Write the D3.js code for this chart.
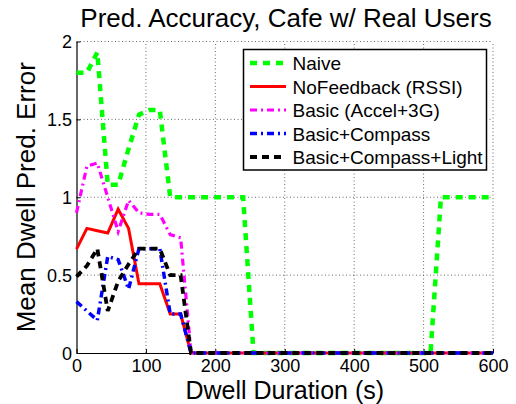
<!DOCTYPE html>
<html><head><meta charset="utf-8">
<script src="https://cdn.jsdelivr.net/npm/d3@7"></script>
<style>
body{margin:0;background:#fff;}
svg{display:block;font-family:"Liberation Sans",Arial,Helvetica,sans-serif;}
</style></head>
<body><svg id="c" width="516" height="404"></svg>
<script>
const durations = [0,15,30,45,60,75,90,105,120,135,150,165,180,195,210,225,240,255,270,285,300,315,330,345,360,375,390,405,420,435,450,465,480,495,510,525,540,555,570,585,600];
const naive = [1.8,1.8,1.93,1.08,1.08,1.31,1.53,1.56,1.56,1.0,1.0,1.0,1.0,1.0,1.0,1.0,1.0,0,0,0,0,0,0,0,0,0,0,0,0,0,0,0,0,0,0,1.0,1.0,1.0,1.0,1.0,1.0];
const noFeedback = [0.667,0.8,0.785,0.77,0.923,0.8,0.444,0.444,0.444,0.25,0.25,0,0,0,0,0,0,0,0,0,0,0,0,0,0,0,0,0,0,0,0,0,0,0,0,0,0,0,0,0,0];
const basic = [0.9,1.2,1.22,1.0,0.78,0.98,0.9,0.89,0.89,0.76,0.74,0,0,0,0,0,0,0,0,0,0,0,0,0,0,0,0,0,0,0,0,0,0,0,0,0,0,0,0,0,0];
const basicCompass = [0.33,0.27,0.21,0.62,0.6,0.41,0.67,0.67,0.67,0.25,0.25,0,0,0,0,0,0,0,0,0,0,0,0,0,0,0,0,0,0,0,0,0,0,0,0,0,0,0,0,0,0];
const basicCompassLight = [0.49,0.56,0.67,0.27,0.46,0.57,0.67,0.67,0.67,0.5,0.5,0,0,0,0,0,0,0,0,0,0,0,0,0,0,0,0,0,0,0,0,0,0,0,0,0,0,0,0,0,0];
const seriesNames = ["Naive","NoFeedback (RSSI)","Basic (Accel+3G)","Basic+Compass","Basic+Compass+Light"];
const xTicks = [0,100,200,300,400,500,600];
const yTicks = [0,0.5,1,1.5,2];
const titleText = "Pred. Accuracy, Cafe w/ Real Users";
const xLabel = "Dwell Duration (s)";
const yLabel = "Mean Dwell Pred. Error";

const series = [
  {name:seriesNames[0], values:naive, color:"#00ff00", width:4.5, dash:"7,6"},
  {name:seriesNames[1], values:noFeedback, color:"#ff0000", width:3, dash:null},
  {name:seriesNames[2], values:basic, color:"#ff00ff", width:3.2, dash:"7,4,2,4"},
  {name:seriesNames[3], values:basicCompass, color:"#0000ff", width:3.5, dash:"7,4,2,4"},
  {name:seriesNames[4], values:basicCompassLight, color:"#000000", width:3.8, dash:"7,5"}
];

const svg = d3.select("#c");
const L=76.5, R=493, T=41.5, B=353;
const x = d3.scaleLinear().domain([0,600]).range([L,R]);
const y = d3.scaleLinear().domain([0,2]).range([B,T]);

// grid
const g = svg.append("g");
g.selectAll(".gx").data(xTicks.filter(d=>d>0)).enter().append("line")
  .attr("x1",d=>x(d)).attr("x2",d=>x(d)).attr("y1",B).attr("y2",T)
  .attr("stroke","#444").attr("stroke-width",0.8).attr("stroke-dasharray","1,2.5");
g.selectAll(".gy").data(yTicks.filter(d=>d>0)).enter().append("line")
  .attr("y1",d=>y(d)).attr("y2",d=>y(d)).attr("x1",L).attr("x2",R)
  .attr("stroke","#444").attr("stroke-width",0.8).attr("stroke-dasharray","1,2.5");

// axes
const xAxis = d3.axisBottom(x).tickValues(xTicks).tickSizeInner(-4).tickSizeOuter(0).tickPadding(9);
const yAxis = d3.axisLeft(y).tickValues(yTicks).tickSizeInner(-4).tickSizeOuter(0).tickPadding(8).tickFormat(d3.format("~g"));
const ax = svg.append("g").attr("transform",`translate(0,${B})`).call(xAxis);
const ay = svg.append("g").attr("transform",`translate(${L},0)`).call(yAxis);
[ax,ay].forEach(a=>{
  a.select(".domain").attr("stroke","#000").attr("stroke-width",1.2);
  a.selectAll(".tick line").attr("stroke","#000");
  a.selectAll("text").attr("font-size",18).attr("fill","#000").attr("font-family","Liberation Sans, Arial, sans-serif");
});
ax.selectAll("text").attr("dy","0.55em");
ay.selectAll("text").attr("dy","0.36em").attr("x",-4.5);

// lines
const line = d3.line().x((d,i)=>x(durations[i])).y(d=>y(d));
series.forEach(s=>{
  svg.append("path").datum(s.values).attr("d",line)
    .attr("fill","none").attr("stroke",s.color).attr("stroke-width",s.width)
    .attr("stroke-dasharray",s.dash).attr("stroke-linejoin","miter").attr("stroke-linecap","butt");
});

// labels
svg.append("text").attr("x",286).attr("y",26.5).attr("text-anchor","middle")
  .attr("font-size",26).text(titleText);
svg.append("text").attr("x",(L+R)/2).attr("y",398.5).attr("text-anchor","middle")
  .attr("font-size",25).text(xLabel);
svg.append("text").attr("transform",`translate(35,${(T+B)/2}) rotate(-90)`).attr("text-anchor","middle")
  .attr("font-size",26).text(yLabel);

// legend
const lg = svg.append("g");
lg.append("rect").attr("x",243.5).attr("y",49.5).attr("width",243).attr("height",120.5)
  .attr("fill","#fff").attr("stroke","#000").attr("stroke-width",1.5);
series.forEach((s,i)=>{
  const cy = 63 + i*23.5;
  lg.append("line").attr("x1",250).attr("x2",286).attr("y1",cy).attr("y2",cy)
    .attr("stroke",s.color).attr("stroke-width",s.width).attr("stroke-dasharray",s.dash);
  lg.append("text").attr("x",292.5).attr("y",cy+7).attr("font-size",19).text(s.name);
});
</script>
</body></html>
